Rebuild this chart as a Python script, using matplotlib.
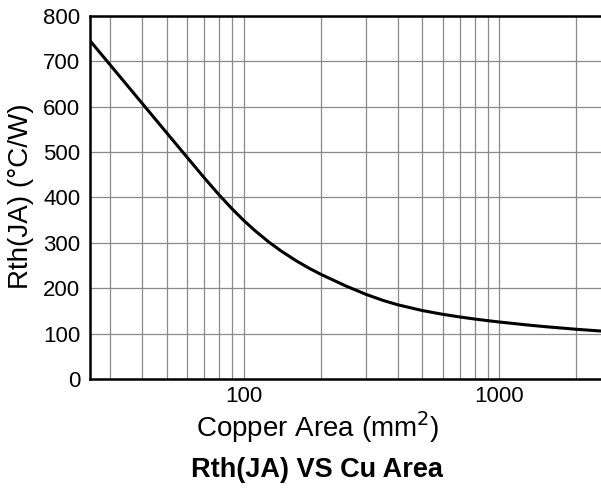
import matplotlib
matplotlib.use("Agg")
import matplotlib.pyplot as plt
from matplotlib.ticker import FixedLocator, NullFormatter, FixedFormatter

plt.rcParams['font.family'] = ['Liberation Sans', 'DejaVu Sans']

# Data (Copper area in mm^2 vs Rth(JA) in °C/W)
area_mm2 = [25, 30, 40, 50, 60, 70, 80, 90, 100, 110, 125, 140, 160, 180,
            200, 250, 300, 350, 400, 500, 600, 700, 800, 900, 1000, 1250,
            1500, 2000, 2500]
rth_ja = [745, 691.5, 607, 541.5, 488, 443, 405.5, 374.5, 349, 327.8, 302,
          281.8, 260.6, 244, 230.6, 205.2, 186.6, 173.2, 163.5, 150.7, 142.5,
          136.6, 132.1, 128.5, 125.5, 119.7, 115.4, 109.5, 105.6]

x_major = [100, 1000]
x_major_labels = ["100", "1000"]
x_minor = [30, 40, 50, 60, 70, 80, 90, 200, 300, 400, 500, 600, 700, 800, 900, 2000]
y_ticks = [0, 100, 200, 300, 400, 500, 600, 700, 800]
y_tick_labels = [str(v) for v in y_ticks]

W, H = 601, 488
fig = plt.figure(figsize=(W / 100, H / 100), dpi=100)
ax = fig.add_axes([90 / W, 1 - 379 / H, 1 - 90 / W, (379 - 15.7) / H])

ax.set_xscale('log')
ax.set_xlim(25, 2500)
ax.set_ylim(0, 800)

ax.xaxis.set_major_locator(FixedLocator(x_major))
ax.xaxis.set_major_formatter(FixedFormatter(x_major_labels))
ax.xaxis.set_minor_locator(FixedLocator(x_minor))
ax.xaxis.set_minor_formatter(NullFormatter())
ax.yaxis.set_major_locator(FixedLocator(y_ticks))
ax.yaxis.set_major_formatter(FixedFormatter(y_tick_labels))

ax.grid(True, which='both', axis='x', color='#8a8a8a', linewidth=0.9)
ax.grid(True, which='major', axis='y', color='#8a8a8a', linewidth=0.9)
ax.set_axisbelow(True)

ax.tick_params(which='both', length=0)
ax.tick_params(axis='y', pad=7, labelsize=16)
ax.tick_params(axis='x', pad=5, labelsize=16)

for side in ['left', 'bottom', 'top']:
    ax.spines[side].set_linewidth(1.8)
    ax.spines[side].set_color('black')
ax.spines['right'].set_visible(False)

ax.plot(area_mm2, rth_ja, color='black', linewidth=2.2,
        solid_joinstyle='round', solid_capstyle='butt')

fig.text(21.5 / W, 1 - 196.5 / H, "Rth(JA) (°C/W)", rotation=90,
         ha='center', va='center', fontsize=20)
fig.text(318 / W, 1 - 437.3 / H, "Copper Area (mm$^2$)", ha='center',
         va='baseline', fontsize=20)
fig.text(317 / W, 1 - 477 / H, "Rth(JA) VS Cu Area", ha='center',
         va='baseline', fontsize=19.5, fontweight='bold')

fig.savefig("out.png", dpi=100)
